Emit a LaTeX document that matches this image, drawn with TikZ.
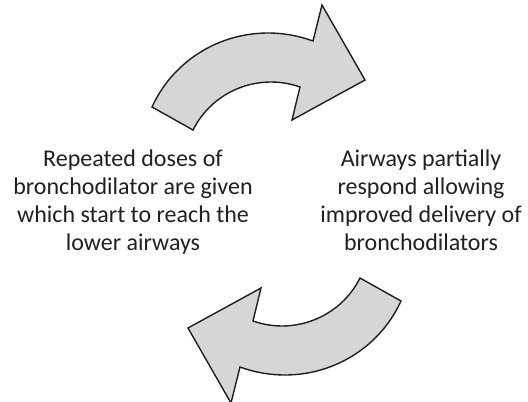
\documentclass[tikz,border=0pt]{standalone}
\usepackage{fontspec}
\setmainfont{Carlito}
\definecolor{arrowfill}{HTML}{D6D6D6}
\definecolor{arrowedge}{HTML}{1E1E1E}
\definecolor{textgray}{HTML}{231F20}
\begin{document}
\begin{tikzpicture}[x=1pt,y=-1pt,
  bentarrow/.style={fill=arrowfill,draw=arrowedge,line width=1.4pt,line join=miter},
  caption/.style={align=center,text=textgray,inner sep=0pt,
    font=\fontsize{24}{28}\selectfont}]
  \useasboundingbox (0,0) rectangle (528,402);
  % curved arrow, upper half of the cycle
  \def\cyclearrow{
    (152,107) .. controls (180,46) and (250,18) .. (313,41)
    -- (322,5) -- (365,80) -- (292,120) -- (300,87)
    .. controls (258.7,72.4) and (212.6,90.8) .. (193,130) -- cycle}
  \path[bentarrow] \cyclearrow;
  % the same arrow turned half a revolution for the lower half
  \begin{scope}[rotate around={180:(276.5,204)}]
    \path[bentarrow] \cyclearrow;
  \end{scope}
  % captions: the base anchor sits on the last line's baseline
  \node[caption,anchor=base] (left) at (133,250)
    {Repeated doses of\\bronchodilator are given\\which start to reach the\\lower airways};
  \node[caption,anchor=base] (right) at (421,250)
    {Airways partially\\respond allowing\\improved delivery of\\bronchodilators};
\end{tikzpicture}
\end{document}
